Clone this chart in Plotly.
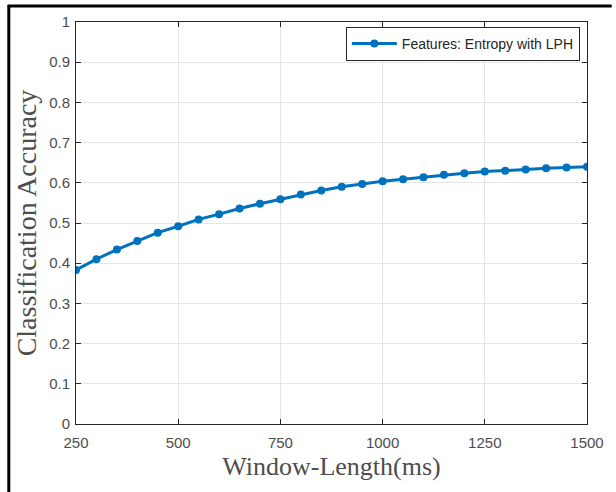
import plotly.graph_objects as go

window_ms = [250, 300, 350, 400, 450, 500, 550, 600, 650, 700, 750, 800, 850,
             900, 950, 1000, 1050, 1100, 1150, 1200, 1250, 1300, 1350, 1400, 1450, 1500]
accuracy = [0.383, 0.410, 0.434, 0.455, 0.476, 0.492, 0.509, 0.522, 0.536, 0.548,
            0.559, 0.571, 0.581, 0.590, 0.597, 0.604, 0.609, 0.614, 0.620, 0.624,
            0.628, 0.630, 0.633, 0.636, 0.638, 0.640]
series_name = "Features: Entropy with LPH"
x_ticks = [250, 500, 750, 1000, 1250, 1500]
y_ticks = [0, 0.1, 0.2, 0.3, 0.4, 0.5, 0.6, 0.7, 0.8, 0.9, 1]
y_tick_text = ["0", "0.1", "0.2", "0.3", "0.4", "0.5", "0.6", "0.7", "0.8", "0.9", "1"]

W, H = 616, 492
L, R, T, B = 76, 23, 22, 68
pw, ph = W - L - R, H - T - B


def px_x(x):
    return (x - L) / pw


def px_y(y):
    return (H - B - y) / ph


fig = go.Figure()
fig.add_trace(go.Scatter(
    x=window_ms, y=accuracy, name=series_name, mode="lines+markers",
    line=dict(color="#0072BD", width=3),
    marker=dict(color="#0072BD", size=8, symbol="circle"),
))

axis_common = dict(
    showgrid=True, gridcolor="#e5e5e5", gridwidth=1,
    showline=True, linecolor="#262626", linewidth=1, mirror="allticks",
    ticks="inside", ticklen=5, tickcolor="#262626", tickwidth=1,
    tickfont=dict(family="Liberation Sans, Arial", size=15, color="#4d4d4d"),
    zeroline=False,
)

fig.update_layout(
    width=W, height=H,
    margin=dict(l=L, r=R, t=T, b=B, pad=0),
    paper_bgcolor="white", plot_bgcolor="white",
    showlegend=True,
    legend=dict(
        x=0.986, y=0.988, xanchor="right", yanchor="top",
        bgcolor="white", bordercolor="#262626", borderwidth=1,
        font=dict(family="Liberation Sans, Arial", size=14, color="#262626"),
        itemwidth=45,
    ),
    xaxis=dict(
        range=[250, 1500], tickvals=x_ticks, ticklabelstandoff=5,
        title=dict(text="Window-Length(ms)", standoff=6,
                   font=dict(family="Liberation Serif, Times New Roman", size=26, color="#4d4d4d")),
        **axis_common,
    ),
    yaxis=dict(
        range=[0, 1], tickvals=y_ticks, ticktext=y_tick_text, ticklabelstandoff=2,
        title=dict(text="Classification Accuracy", standoff=4,
                   font=dict(family="Liberation Serif, Times New Roman", size=28, color="#4d4d4d")),
        **axis_common,
    ),
    shapes=[
        dict(type="line", xref="paper", yref="paper",
             x0=px_x(8), x1=px_x(8), y0=px_y(5), y1=px_y(H + 2),
             line=dict(color="black", width=3)),
        dict(type="line", xref="paper", yref="paper",
             x0=px_x(7), x1=px_x(W + 2), y0=px_y(6), y1=px_y(6),
             line=dict(color="black", width=3)),
    ],
)

fig.write_html("out.html")
